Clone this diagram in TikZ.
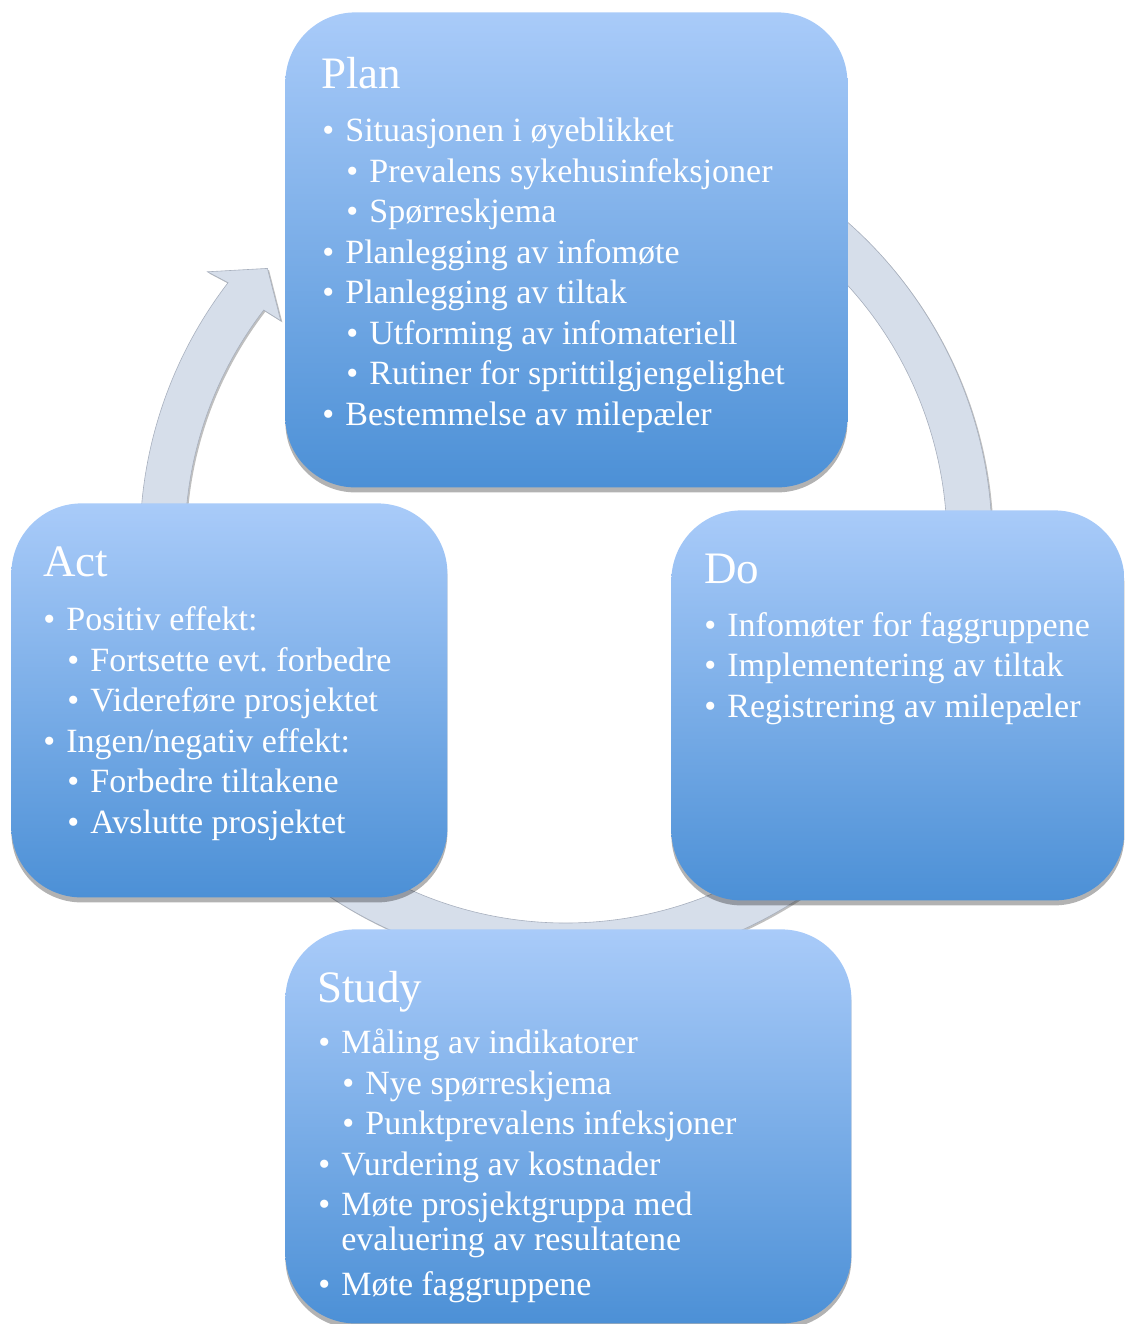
\documentclass[tikz,border=0pt]{standalone}
\usepackage{fontspec}
\setmainfont{Liberation Serif}
\usetikzlibrary{shadows,calc}
\frenchspacing

\definecolor{boxtop}{RGB}{169,203,249}
\definecolor{boxbot}{RGB}{76,144,214}
\definecolor{ringfill}{RGB}{214,222,234}
\definecolor{ringedge}{RGB}{168,176,190}

\newcommand{\lvlone}[1]{\makebox[11.5pt][l]{\textbullet}#1}
\newcommand{\lvltwo}[1]{\hspace*{12pt}\makebox[11.5pt][l]{\textbullet}#1}

\begin{document}
\begin{tikzpicture}[x=0.5pt,y=-0.5pt,
    box/.style={rectangle,rounded corners=35pt,anchor=north west,inner sep=0pt,
      top color=boxtop,bottom color=boxbot,
      drop shadow={shadow xshift=0pt,shadow yshift=-2.5pt,opacity=0.3,fill=black}},
    boxtitle/.style={anchor=base west,inner sep=0pt,text=white,
      font=\fontsize{22.5}{27}\selectfont},
    boxlist/.style={anchor=base west,inner sep=0pt,text=white,align=left,
      font=\fontsize{17}{20.25}\selectfont},
    ring/.style={fill=ringfill,draw=ringedge,line width=0.3pt,
      drop shadow={shadow xshift=0.8pt,shadow yshift=-0.8pt,opacity=0.25,fill=black}}]
  \useasboundingbox (0,0) rectangle (1125,1324);

  % cycle ring with arrow head
  \coordinate (c) at (566,542);
  \path[ring] ($(c)+(-120:426)$) arc[start angle=-120,end angle=217.5,radius=426]
    -- ($(c)+(217:449)$) -- ($(c)+(222.5:405)$) -- ($(c)+(217.8:361)$)
    -- ($(c)+(217.5:381)$) arc[start angle=217.5,end angle=-120,radius=381] -- cycle;

  % boxes
  \node[box,minimum width=281pt,minimum height=237.5pt] (plan) at (285,12) {};
  \node[box,minimum width=218pt,minimum height=197pt] (act) at (11,503) {};
  \node[box,minimum width=226.5pt,minimum height=195pt] (do) at (671,510) {};
  \node[box,minimum width=283pt,minimum height=197pt] (study) at (285,929) {};

  % Plan (list placed by its last line)
  \node[boxtitle] (plantitle) at (321,88) {Plan};
  \node[boxlist] (planlist) at (322,425) {%
    \lvlone{Situasjonen i øyeblikket}\\
    \lvltwo{Prevalens sykehusinfeksjoner}\\
    \lvltwo{Spørreskjema}\\
    \lvlone{Planlegging av infomøte}\\
    \lvlone{Planlegging av tiltak}\\
    \lvltwo{Utforming av infomateriell}\\
    \lvltwo{Rutiner for sprittilgjengelighet}\\
    \lvlone{Bestemmelse av milepæler}};

  % Do
  \node[boxtitle] (dotitle) at (704,583) {Do};
  \node[boxlist] (dolist) at (704,717) {%
    \lvlone{Infomøter for faggruppene}\\
    \lvlone{Implementering av tiltak}\\
    \lvlone{Registrering av milepæler}};

  % Study
  \node[boxtitle] (studytitle) at (317,1002) {Study};
  \node[boxlist] (studylist) at (318,1295) {%
    \lvlone{Måling av indikatorer}\\
    \lvltwo{Nye spørreskjema}\\
    \lvltwo{Punktprevalens infeksjoner}\\
    \lvlone{Vurdering av kostnader}\\
    \lvlone{Møte prosjektgruppa med}\\[-2.75pt]
    \hspace*{11.5pt}evaluering av resultatene\\[2pt]
    \lvlone{Møte faggruppene}};

  % Act
  \node[boxtitle] (acttitle) at (43,576) {Act};
  \node[boxlist] (actlist) at (43,833) {%
    \lvlone{Positiv effekt:}\\
    \lvltwo{Fortsette evt. forbedre}\\
    \lvltwo{Videreføre prosjektet}\\
    \lvlone{Ingen/negativ effekt:}\\
    \lvltwo{Forbedre tiltakene}\\
    \lvltwo{Avslutte prosjektet}};
\end{tikzpicture}
\end{document}
